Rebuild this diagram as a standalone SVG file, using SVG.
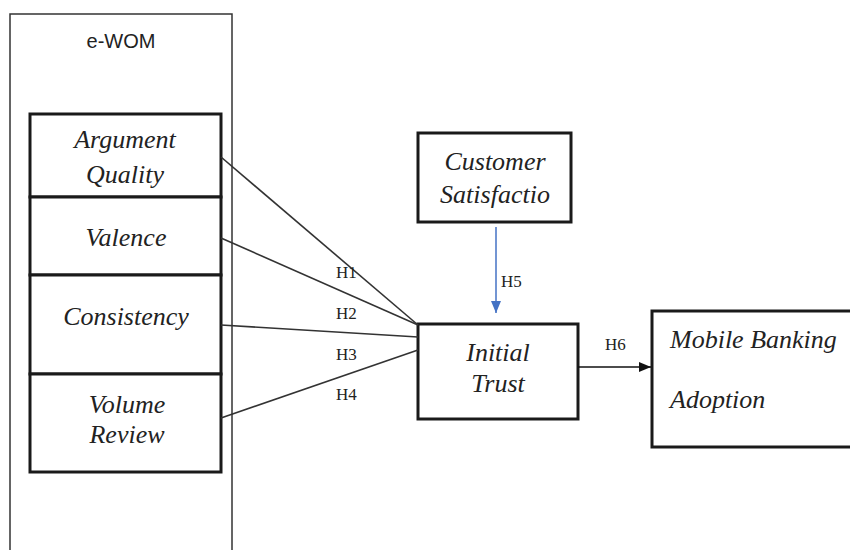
<svg xmlns="http://www.w3.org/2000/svg" width="850" height="550" viewBox="0 0 850 550">
<style>
.box{fill:#fff;stroke:#1a1a1a;stroke-width:3}
.outer{fill:#fff;stroke:#333;stroke-width:1.5}
.lbl{font-family:"Liberation Serif",serif;font-style:italic;font-size:26px;fill:#222;text-anchor:middle}
.lbl-l{font-family:"Liberation Serif",serif;font-style:italic;font-size:26px;fill:#222;text-anchor:start}
.h{font-family:"Liberation Serif",serif;font-size:17px;fill:#222}
.link{stroke:#333;stroke-width:1.6;fill:none}
</style>
<defs>
<marker id="ab" markerWidth="12" markerHeight="10" refX="12" refY="5" orient="auto" markerUnits="userSpaceOnUse"><path d="M0,0 L12,5 L0,10 Z" fill="#111"/></marker>
<marker id="ablue" markerWidth="12" markerHeight="10" refX="12" refY="5" orient="auto" markerUnits="userSpaceOnUse"><path d="M0,0 L12,5 L0,10 Z" fill="#4472C4"/></marker>
</defs>
<rect width="850" height="550" fill="#fff"/>
<g id="ewom">
<rect class="outer" x="10" y="14" width="222" height="560"/>
<text x="121" y="48" font-family="Liberation Sans,sans-serif" font-size="20" fill="#222" text-anchor="middle">e-WOM</text>
</g>
<g id="argument-quality">
<rect class="box" x="30" y="114" width="191" height="83"/>
<text class="lbl" x="125" y="148">Argument</text>
<text class="lbl" x="125" y="183">Quality</text>
</g>
<g id="valence">
<rect class="box" x="30" y="197" width="191" height="78"/>
<text class="lbl" x="126" y="246">Valence</text>
</g>
<g id="consistency">
<rect class="box" x="30" y="275" width="191" height="99"/>
<text class="lbl" x="126" y="325">Consistency</text>
</g>
<g id="volume-review">
<rect class="box" x="30" y="374" width="191" height="98"/>
<text class="lbl" x="127" y="413">Volume</text>
<text class="lbl" x="127" y="443">Review</text>
</g>
<g id="customer-satisfaction">
<rect class="box" x="418" y="133" width="153" height="89"/>
<text class="lbl" x="495" y="170">Customer</text>
<text class="lbl" x="495" y="203">Satisfactio</text>
</g>
<g id="initial-trust">
<rect class="box" x="418" y="324" width="160" height="95"/>
<text class="lbl" x="498" y="361">Initial</text>
<text class="lbl" x="498" y="392">Trust</text>
</g>
<g id="mobile-banking-adoption">
<rect class="box" x="652" y="311" width="200" height="136"/>
<text class="lbl-l" x="670" y="348">Mobile Banking</text>
<text class="lbl-l" x="670" y="408">Adoption</text>
</g>
<g id="connectors">
<line class="link" x1="221" y1="157" x2="418" y2="325"/>
<line class="link" x1="221" y1="238" x2="418" y2="325"/>
<line class="link" x1="221" y1="325" x2="418" y2="337"/>
<line class="link" x1="221" y1="418" x2="418" y2="350"/>
<line x1="496" y1="227" x2="496" y2="313" stroke="#4472C4" stroke-width="1.5" marker-end="url(#ablue)"/>
<line x1="578" y1="367" x2="651" y2="367" stroke="#111" stroke-width="1.5" marker-end="url(#ab)"/>
<text class="h" x="336" y="278">H1</text>
<text class="h" x="336" y="319">H2</text>
<text class="h" x="336" y="360">H3</text>
<text class="h" x="336" y="400">H4</text>
<text class="h" x="501" y="287">H5</text>
<text class="h" x="605" y="350">H6</text>
</g>
</svg>
